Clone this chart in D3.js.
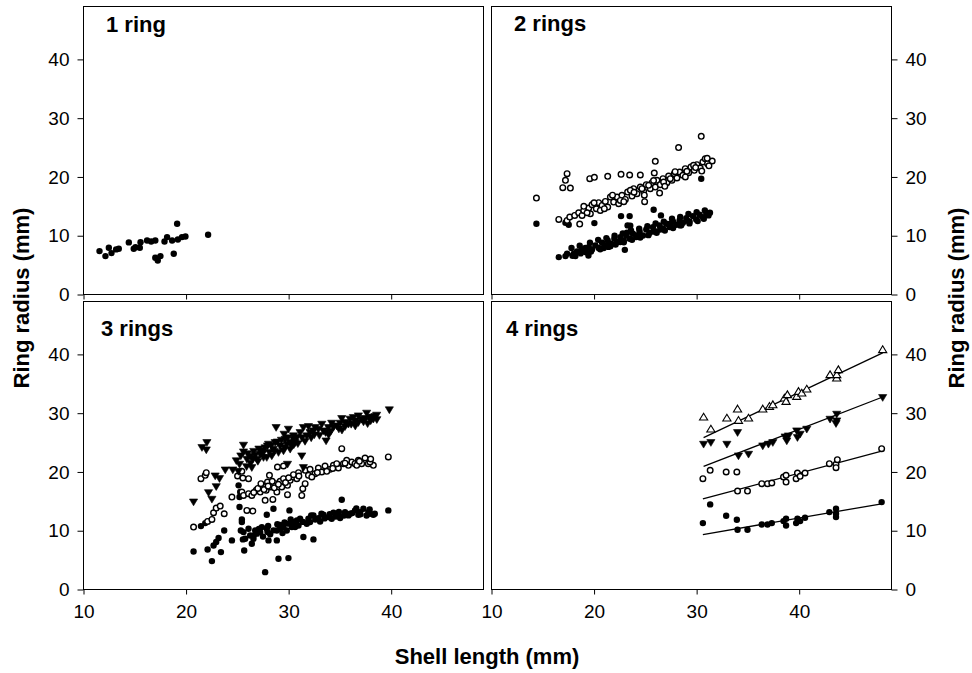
<!DOCTYPE html>
<html><head><meta charset="utf-8">
<script src="https://cdn.jsdelivr.net/npm/d3@7"></script>
<style>body{margin:0;background:#fff}svg{display:block}</style>
</head><body>
<svg id="chart" width="972" height="673"></svg>
<script>
// ---------------- DATA ----------------
const panelTitles = ["1 ring", "2 rings", "3 rings", "4 rings"];
const xTickValues = [10, 20, 30, 40];
const yTickValues = [0, 10, 20, 30, 40];
const xDomain = [10, 49];
const yDomain = [0, 49];
const xTitle = "Shell length (mm)";
const yTitle = "Ring radius (mm)";

// Panel 1: 1 ring (ring 1 radius)
const p1Ring1 = [[11.56,7.38],[12.14,6.53],[12.47,7.95],[12.73,7.04],[13.18,7.67],[13.44,7.78],[14.42,8.86],[14.9,7.78],[15.07,8.06],[15.49,7.95],[15.56,8.91],[16.2,9.2],[16.6,9.03],[17.0,9.2],[17.0,6.25],[17.24,5.79],[17.5,6.53],[17.9,9.03],[18.15,9.77],[18.64,9.2],[18.8,6.93],[19.13,12.04],[19.2,9.37],[19.6,9.77],[19.94,9.88],[22.15,10.17]];

// Panel 2: 2 rings
const p2Ring1 = [[14.38,12.04],[17.21,12.21],[17.53,11.87],[20.03,12.15],[22.63,13.34],[23.47,13.34],[23.27,11.76],[25.81,14.42],[26.52,13.46],[30.45,19.7],[23.53,11.7],
[16.56,6.36],[17.21,6.53],[17.37,6.93],[18.02,6.93],[18.34,7.32],[18.83,7.67],[19.15,7.21],[19.48,8.06],[19.8,7.67],[20.13,8.35],[20.45,7.9],[20.78,8.8],[21.1,8.35],[21.33,9.2],[21.65,8.63],[21.98,9.48],[22.3,8.92],[22.56,9.77],[22.89,9.2],[23.14,10.05],[23.47,9.48],[23.79,10.33],[24.12,9.77],[24.44,10.73],[24.77,10.05],[25.09,11.07],[25.42,10.5],[25.74,11.47],[26.07,10.73],[26.39,11.76],[26.72,11.19],[27.04,12.04],[27.36,11.47],[27.69,12.43],[28.01,11.87],[28.34,12.6],[28.66,12.21],[28.99,13.0],[29.31,12.43],[29.64,13.34],[29.96,12.77],[30.29,13.57],[30.61,13.17],[30.94,13.91],[31.16,13.46],[20.94,7.9],[22.56,8.92],[24.18,10.05],[25.81,10.73],[27.43,12.04],[29.05,12.6],[23.21,10.5],[26.46,11.07],[21.59,8.23],[19.15,7.9],[18.18,6.53],[28.4,11.76],[23.0,7.6],[19.45,6.64],
[17.8,7.9],[17.9,6.6],[18.6,8.3],[18.7,7.0],[19.6,8.8],[19.7,7.3],[20.4,9.3],[20.6,7.7],[21.2,9.6],[21.4,8.1],[22.0,10.0],[22.1,8.5],[22.8,10.4],[22.9,8.9],[23.6,10.9],[23.7,9.3],[24.4,11.2],[24.5,9.7],[25.2,11.6],[25.3,10.1],[26.0,12.1],[26.1,10.5],[26.8,12.4],[26.9,10.9],[27.6,12.9],[27.7,11.3],[28.4,13.2],[28.5,11.8],[29.2,13.7],[29.3,12.1],[30.0,14.0],[30.1,12.5],[30.8,14.3],[30.7,12.9],[31.3,13.9]];
const p2Ring2 = [[14.38,16.41],[17.37,20.56],[17.21,19.42],[16.95,18.17],[17.69,18.11],[19.58,19.7],[20.03,19.93],[21.33,20.1],[22.63,20.44],[23.47,20.33],[24.51,20.33],[25.97,22.66],[28.24,25.0],[30.45,26.92],[25.87,20.67],[26.39,17.26],[24.93,15.79],[18.6,11.98],[16.56,12.78],[17.37,12.6],[17.63,13.17],[18.11,13.46],[18.5,13.91],[18.83,13.46],[18.99,14.31],[19.48,14.71],[19.64,13.74],[19.8,15.27],[20.22,14.59],[20.45,15.62],[20.78,15.16],[21.1,15.84],[21.33,14.88],[21.59,16.58],[21.91,15.73],[22.24,16.58],[22.4,15.45],[22.72,16.87],[23.05,16.18],[23.27,17.43],[23.7,16.75],[23.86,18.0],[24.18,17.15],[24.51,18.28],[24.83,17.55],[25.09,18.68],[25.48,18.0],[25.65,19.02],[25.97,18.28],[26.13,19.42],[26.46,18.68],[26.72,19.7],[27.1,19.02],[27.27,20.16],[27.59,19.42],[27.82,20.56],[28.08,19.82],[28.34,20.84],[28.66,20.27],[28.89,21.41],[29.22,20.73],[29.44,21.69],[29.77,21.12],[30.03,22.09],[30.35,21.52],[30.61,22.54],[30.84,23.11],[31.07,22.26],[22.56,16.01],[20.61,14.31],[24.67,18.0],[26.78,19.14],[29.05,20.95],[19.32,13.91],[23.54,17.72],[25.32,18.57],[27.43,19.7],[29.7,21.97],[31.52,22.71],[31.03,23.17],
[19.0,15.0],[20.0,15.6],[21.0,14.6],[21.8,16.9],[22.9,15.8],[23.9,17.4],[24.9,16.9],[25.8,19.4],[26.9,18.4],[27.9,20.9],[28.9,20.0],[29.9,21.6],[30.5,21.0],[31.2,21.9]];

// Panel 3: 3 rings
const p3Ring1 = [[20.73,6.47],[21.45,10.79],[21.87,11.3],[22.1,6.81],[22.52,4.83],[22.68,7.49],[22.94,8.07],[23.17,8.75],[23.4,6.36],[23.72,10.05],[24.47,8.35],[25.12,17.72],[25.28,16.58],[25.21,15.73],[25.21,14.03],[25.44,11.93],[25.44,11.47],[25.34,10.05],[25.6,9.77],[25.76,8.63],[25.54,8.52],[25.67,6.64],[26.09,10.33],[26.25,9.2],[26.41,7.78],[26.57,8.63],[26.74,10.05],[27.23,9.77],[27.39,10.62],[27.71,2.95],[27.87,12.72],[27.94,9.77],[28.04,8.35],[28.52,13.74],[28.85,8.35],[29.01,5.22],[28.85,10.05],[29.17,10.33],[29.5,10.62],[29.98,5.34],[30.08,13.46],[29.82,10.05],[30.31,10.62],
[30.47,11.47],[30.8,11.76],[31.12,12.04],[30.63,10.62],[31.44,8.92],[31.93,12.04],[32.42,8.52],[32.42,12.61],[32.9,12.15],[33.39,12.72],[33.88,12.32],[34.37,13.06],[34.85,12.61],[35.18,15.28],[35.5,13.17],[35.99,12.89],[36.47,13.46],[36.96,13.17],[37.29,13.74],[37.77,13.17],[38.26,12.72],[39.72,13.46],[30.96,10.9],[31.77,11.19],[32.09,11.47],[33.07,11.58],[34.2,12.04],[35.02,12.15],[35.83,12.61],[36.8,12.72],[37.93,12.89],
[27.87,10.34],[28.52,10.06],[30.47,10.91],[29.17,11.0],[28.2,9.4],[29.4,9.6],[30.0,11.2],[26.9,9.5],[27.5,9.0],
[28.0,10.8],[28.9,11.1],[29.6,11.4],[30.2,11.9],[31.4,11.5],[32.6,11.9],[33.5,12.1],[34.6,12.4],[35.4,12.6],[36.2,13.0],[37.0,12.8],[37.6,12.6],[38.4,12.9],[32.2,12.6],[33.2,12.9],[34.0,12.8],[34.9,13.2],[36.6,13.8],[37.9,13.6],[26.6,9.2],[27.1,10.3]];
const p3Ring2 = [[20.73,10.62],[21.45,18.85],[21.87,19.42],[21.97,19.88],[22.1,11.58],[22.52,11.93],[22.68,13.06],[22.94,13.86],[23.33,14.2],[23.72,12.89],[24.47,15.73],[25.02,19.31],[25.54,18.97],[26.09,18.85],[25.44,20.1],[25.44,16.58],[25.6,16.01],[26.09,16.3],[25.93,13.46],[26.51,13.35],[26.41,16.01],[26.84,16.87],[27.23,16.58],[27.48,17.6],[27.81,16.87],[27.94,18.28],[28.13,19.42],[28.2,17.44],[28.46,15.33],[28.69,18.0],[28.85,16.58],[28.91,20.84],[29.17,18.4],[29.33,17.44],[29.5,18.85],[29.5,21.01],[29.89,17.72],[29.89,16.13],[30.15,18.57],[30.47,19.14],
[30.8,18.85],[30.96,19.88],[31.28,16.01],[31.38,17.15],[31.61,20.27],[31.93,19.42],[32.09,20.44],[32.58,19.71],[32.9,20.67],[33.23,19.99],[33.55,21.01],[34.04,20.44],[34.37,21.12],[34.85,20.67],[35.18,23.96],[35.34,21.41],[35.83,21.12],[36.15,21.69],[36.47,21.41],[36.8,21.98],[37.12,21.41],[37.45,22.37],[37.77,21.41],[38.26,21.12],[39.72,22.55],[31.61,18.0],[32.26,19.14],[33.72,20.1],[34.69,21.41],[35.66,21.98],[36.64,21.12],[37.93,21.69],[30.47,19.54],[27.71,15.17],
[27.0,17.2],[27.6,17.0],[28.0,17.6],[28.6,17.3],[29.0,17.9],[29.7,18.2],[30.0,19.0],[26.6,16.5],[27.3,18.0],[28.4,18.4],[31.0,19.3],[32.8,19.9],[34.3,20.6],[35.5,21.5],[36.9,21.8],[38.0,22.2]];
const p3Ring3 = [[20.73,14.99],[21.55,24.25],[22.03,25.1],[21.97,23.85],[22.19,16.58],[22.52,15.45],[22.84,19.42],[23.26,18.97],[22.94,17.6],[23.82,20.44],[24.56,20.44],[25.21,21.41],[25.6,24.65],[25.6,23.51],[25.34,22.83],[25.93,22.26],[26.25,22.72],[26.41,20.84],[26.74,22.94],[26.9,22.26],[27.39,23.68],[27.55,22.55],[27.94,24.53],[28.13,23.4],[28.52,23.96],[28.78,27.66],[29.56,26.52],[29.98,27.37],[29.17,24.53],[29.5,23.68],[29.82,24.82],[30.15,23.96],[29.89,21.41],[30.31,24.53],
[30.8,25.95],[31.12,26.8],[31.44,27.66],[31.77,26.24],[31.93,27.83],[32.42,27.09],[32.9,27.37],[33.23,28.22],[33.65,25.38],[33.88,27.66],[34.2,28.39],[34.69,27.94],[35.18,29.19],[35.5,28.51],[35.99,29.08],[36.47,28.79],[36.8,29.64],[37.12,29.08],[37.61,30.1],[37.93,29.36],[38.42,29.53],[39.82,30.67],[31.28,22.83],[31.44,20.84],[30.47,25.67],[30.15,25.1],
[27.23,23.11],[28.36,22.83],[29.01,23.4],[30.63,25.1],[27.87,22.55],[28.69,25.1],[29.66,25.67],[30.47,26.24],[32.09,26.8],[32.58,27.66],[33.39,27.09],[34.37,27.66],[35.02,28.39],[35.83,28.22],[36.31,29.36],[37.45,29.19],[38.26,29.08],[38.58,29.76],[28.04,24.82],
[26.0,23.2],[26.6,23.6],[27.1,24.0],[27.7,24.2],[28.3,24.6],[28.9,25.2],[29.3,25.5],[26.3,21.6],[25.9,21.0],[27.0,21.9],[29.9,25.9],[30.9,24.9],[31.6,25.3],[32.2,25.9],[33.0,26.3],[33.6,26.8],[34.1,27.0],[34.9,27.4],[35.5,27.8],[36.1,28.2],[36.8,28.5],[37.3,28.6],[38.0,28.8],[38.6,29.0],[24.9,22.0],[25.1,20.2],
[26.5,22.3],[27.5,23.3],[28.6,23.6],[29.6,24.2],[30.5,24.7],[31.3,25.9],[32.5,26.4],[33.9,26.4],[35.2,27.2],[36.5,27.9],[37.7,28.3],[38.2,29.4]];

// Panel 4: 4 rings
const p4Ring1 = [[30.61,11.3],[31.32,14.48],[32.88,12.55],[33.92,11.87],[33.99,10.16],[34.96,10.16],[36.35,11.07],[36.91,11.07],[37.33,11.3],[38.47,11.64],[38.72,12.04],[38.72,10.9],[39.7,11.3],[39.83,12.04],[40.09,11.64],[40.57,12.21],[42.94,13.17],[43.59,13.74],[43.59,12.32],[43.59,12.89],[48.04,14.87]];
const p4Ring2 = [[30.61,18.85],[31.32,20.27],[32.88,19.99],[33.92,19.99],[33.99,16.75],[34.96,16.75],[36.35,18.0],[36.91,18.0],[37.33,18.12],[38.47,19.14],[38.72,19.42],[38.72,18.28],[39.7,18.85],[39.83,19.82],[40.09,19.25],[40.57,19.82],[42.94,21.41],[43.59,21.29],[43.59,20.73],[43.72,22.09],[48.04,23.96]];
const p4Ring3 = [[30.68,24.81],[31.39,25.1],[32.95,24.81],[33.99,26.8],[34.08,22.83],[35.06,23.11],[36.45,24.53],[37.0,24.81],[37.43,25.1],[38.63,26.06],[38.79,25.38],[38.95,26.23],[39.76,27.09],[39.83,25.95],[40.09,26.52],[40.74,27.37],[43.01,29.07],[43.66,29.92],[43.66,28.79],[43.59,28.33],[48.14,32.76]];
const p4Ring4 = [[30.68,29.24],[31.39,27.2],[32.95,29.07],[33.99,30.61],[34.08,28.67],[35.06,29.07],[36.45,30.61],[37.1,31.06],[37.43,31.34],[38.56,32.48],[38.85,33.05],[38.72,31.91],[39.76,32.76],[39.93,33.6],[40.25,33.33],[40.74,34.01],[43.01,36.45],[43.66,35.89],[43.66,36.45],[43.82,37.3],[48.14,40.71]];
// Linear fits drawn in panel 4 (ring 1..4): radius = slope * length + intercept
const p4FitSlope = [0.300, 0.468, 0.676, 0.826];
const p4FitIntercept = [0.17, 1.08, 0.21, 0.49];

// ---------------- LAYOUT ----------------
const colRanges = [[83.5, 483.5], [491.5, 891.5]];
const rowRanges = [[294.5, 6.5], [589.5, 301.5]];
const FONT = "'Liberation Sans', Arial, Helvetica, sans-serif";

const panels = [
  {col:0,row:0,title:panelTitles[0],titleOff:[22.5,25.5],series:[{d:p1Ring1,s:"dot"}]},
  {col:1,row:0,title:panelTitles[1],titleOff:[22.5,24.5],series:[{d:p2Ring1,s:"dot"},{d:p2Ring2,s:"ring"}]},
  {col:0,row:1,title:panelTitles[2],titleOff:[17.5,34.5],series:[{d:p3Ring1,s:"dot"},{d:p3Ring2,s:"ring"},{d:p3Ring3,s:"down"}]},
  {col:1,row:1,title:panelTitles[3],titleOff:[14.5,34.5],series:[{d:p4Ring1,s:"dot"},{d:p4Ring2,s:"ring"},{d:p4Ring3,s:"down"},{d:p4Ring4,s:"up"}],
    fits:[0,1,2,3]}
];

const svg = d3.select("#chart");
svg.append("rect").attr("width",972).attr("height",673).attr("fill","#fff");

const upPath = "M0,-4.4L4.1,2.4L-4.1,2.4Z";
const downPath = "M0,4.4L4.1,-2.4L-4.1,-2.4Z";

panels.forEach((p, i) => {
  const x = d3.scaleLinear().domain(xDomain).range(colRanges[p.col]);
  const y = d3.scaleLinear().domain(yDomain).range(rowRanges[p.row]);
  const g = svg.append("g");

  const xAx = d3.axisBottom(x).tickValues(xTickValues).tickSize(5).tickSizeOuter(0).tickPadding(10);
  if (p.row === 0) xAx.tickFormat(() => "");
  const gx = g.append("g").attr("transform", `translate(0,${rowRanges[p.row][0]})`).call(xAx);
  gx.select(".domain").remove();

  const yAx = (p.col === 0 ? d3.axisLeft(y) : d3.axisRight(y))
    .tickValues(yTickValues).tickSize(6).tickSizeOuter(0).tickPadding(8);
  const gy = g.append("g").attr("transform", `translate(${colRanges[p.col][p.col === 0 ? 0 : 1]},0)`).call(yAx);
  gy.select(".domain").remove();

  [gx, gy].forEach(a => {
    a.selectAll("text").attr("font-family", FONT).attr("font-size", 19).attr("fill", "#000");
    a.selectAll("line").attr("stroke", "#000").attr("stroke-width", 1);
  });

  g.append("rect")
    .attr("x", colRanges[p.col][0]).attr("y", rowRanges[p.row][1])
    .attr("width", colRanges[p.col][1] - colRanges[p.col][0])
    .attr("height", rowRanges[p.row][0] - rowRanges[p.row][1])
    .attr("fill", "none").attr("stroke", "#000").attr("stroke-width", 1);

  if (p.fits) {
    p.fits.forEach(k => {
      const ext = d3.extent(p.series[k].d, d => d[0]);
      const line = d3.line().x(d => x(d)).y(d => y(p4FitSlope[k] * d + p4FitIntercept[k]));
      g.append("path").datum(ext).attr("d", line)
        .attr("fill", "none").attr("stroke", "#000").attr("stroke-width", 1.3);
    });
  }

  p.series.forEach(s => {
    const sg = g.append("g");
    if (s.s === "dot" || s.s === "ring") {
      sg.selectAll("circle").data(s.d).join("circle")
        .attr("cx", d => x(d[0])).attr("cy", d => y(d[1]))
        .attr("r", s.s === "dot" ? 3.2 : 2.8)
        .attr("fill", s.s === "dot" ? "#000" : "#fff")
        .attr("stroke", "#000").attr("stroke-width", s.s === "dot" ? 0 : 1.4);
    } else {
      sg.selectAll("path").data(s.d).join("path")
        .attr("transform", d => `translate(${x(d[0])},${y(d[1])})`)
        .attr("d", s.s === "up" ? upPath : downPath)
        .attr("fill", s.s === "up" ? "#fff" : "#000")
        .attr("stroke", "#000").attr("stroke-width", s.s === "up" ? 1.1 : 0.6);
    }
  });

  g.append("text")
    .attr("x", colRanges[p.col][0] + p.titleOff[0])
    .attr("y", rowRanges[p.row][1] + p.titleOff[1])
    .attr("font-family", FONT).attr("font-size", 22).attr("font-weight", "bold")
    .text(p.title);
});

svg.append("text").attr("x", 487).attr("y", 664).attr("text-anchor", "middle")
  .attr("font-family", FONT).attr("font-size", 22).attr("font-weight", "bold").text(xTitle);
svg.append("text").attr("transform", "translate(29,298) rotate(-90)").attr("text-anchor", "middle")
  .attr("font-family", FONT).attr("font-size", 22).attr("font-weight", "bold").text(yTitle);
svg.append("text").attr("transform", "translate(964,298) rotate(-90)").attr("text-anchor", "middle")
  .attr("font-family", FONT).attr("font-size", 22).attr("font-weight", "bold").text(yTitle);
</script>
</body></html>
